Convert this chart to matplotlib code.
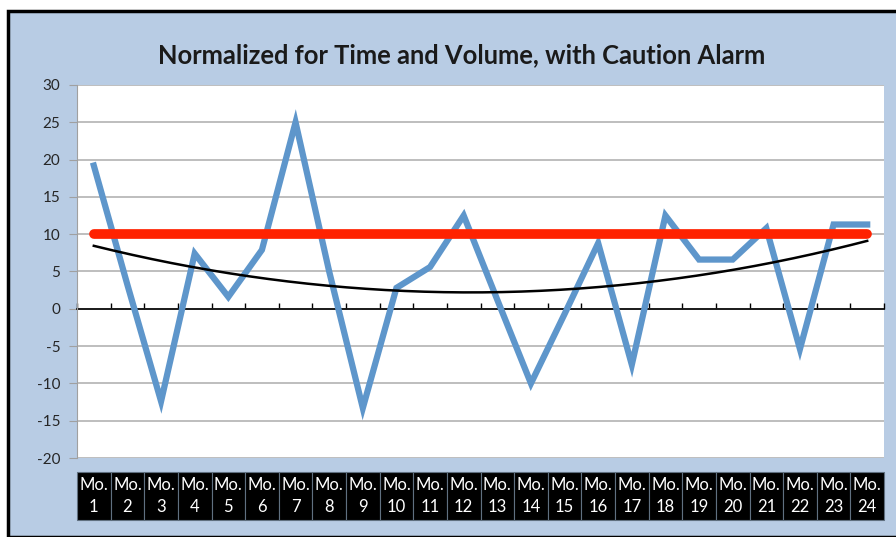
import numpy as np
import matplotlib.pyplot as plt
from matplotlib.patches import Rectangle

# дані
months = [f"Mo.\n{i}" for i in range(1, 25)]
values = [19.2, 3.2, -12.4, 7.4, 1.6, 7.9, 25.0, 5.0, -13.3, 2.8,
          5.6, 12.5, 1.2, -10.0, -0.7, 8.8, -7.5, 12.5, 6.6, 6.6,
          10.8, -5.4, 11.3, 11.3]
alarm = [10] * 24
y_ticks = [30, 25, 20, 15, 10, 5, 0, -5, -10, -15, -20]

plt.rcParams["axes.unicode_minus"] = False

W, H = 896, 537
fig = plt.figure(figsize=(W / 100, H / 100), dpi=100)
fig.patch.set_facecolor("white")

# світло-блакитна рамка діаграми
frame = Rectangle((8 / W, 0), 1, 1 - 11 / H, transform=fig.transFigure,
                  facecolor="#b8cce4", edgecolor="black", linewidth=2.5,
                  zorder=-10)
fig.patches.append(frame)

ax = fig.add_axes([77 / W, 1 - 458 / H, (884 - 77) / W, (458 - 85) / H])
ax.set_facecolor("white")

x = np.arange(1, len(values) + 1)

# поліноміальний тренд 2-го порядку (як у Excel)
coef = np.polyfit(x, values, 2)
xs = np.linspace(1, 24, 200)
trend = np.polyval(coef, xs)

ax.plot(x, values, color="#5e96cb", linewidth=4.5, solid_joinstyle="miter",
        zorder=3)
ax.plot(x, alarm, color="#ff2200", linewidth=7, solid_capstyle="round",
        zorder=4)
ax.plot(xs, trend, color="black", linewidth=1.8, zorder=5)

ax.set_xlim(0.5, 24.5)
ax.set_ylim(-20, 30)
ax.set_yticks(y_ticks)
ax.yaxis.grid(True, color="#b3b3b3", linewidth=1.2)
ax.set_axisbelow(True)

for s in ["top", "right"]:
    ax.spines[s].set_visible(False)
ax.spines["left"].set_color("#a0a0a0")
ax.spines["bottom"].set_position(("data", 0))
ax.spines["bottom"].set_color("black")
ax.spines["bottom"].set_linewidth(1.2)
ax.spines["bottom"].set_zorder(2)

ax.set_xticks(np.arange(0.5, 25, 1))
ax.set_xticklabels([])
ax.tick_params(axis="x", direction="in", length=4, color="black", width=1)
ax.tick_params(axis="y", direction="out", length=6, color="#a0a0a0",
               labelsize=11, labelcolor="#262626", pad=6)
for lbl in ax.get_yticklabels():
    lbl.set_fontfamily("Lato")

# чорні клітинки з підписами місяців
trans = ax.get_xaxis_transform()
for i, m in enumerate(months):
    ax.add_patch(Rectangle((i + 0.5, -0.166), 1, 0.128, transform=trans,
                           facecolor="black", edgecolor="#607080",
                           linewidth=0.8, clip_on=False))
    ax.text(i + 1, -0.101, m, transform=trans, ha="center", va="center",
            color="white", fontsize=12, family="Lato", linespacing=1.45,
            clip_on=False)

fig.text(462 / W, 1 - 55 / H, "Normalized for Time and Volume, with Caution Alarm",
         ha="center", va="center", fontsize=18.4, fontweight="bold",
         family="Lato", color="#1a1a1a")

fig.savefig("out.png", dpi=100, facecolor=fig.get_facecolor())
